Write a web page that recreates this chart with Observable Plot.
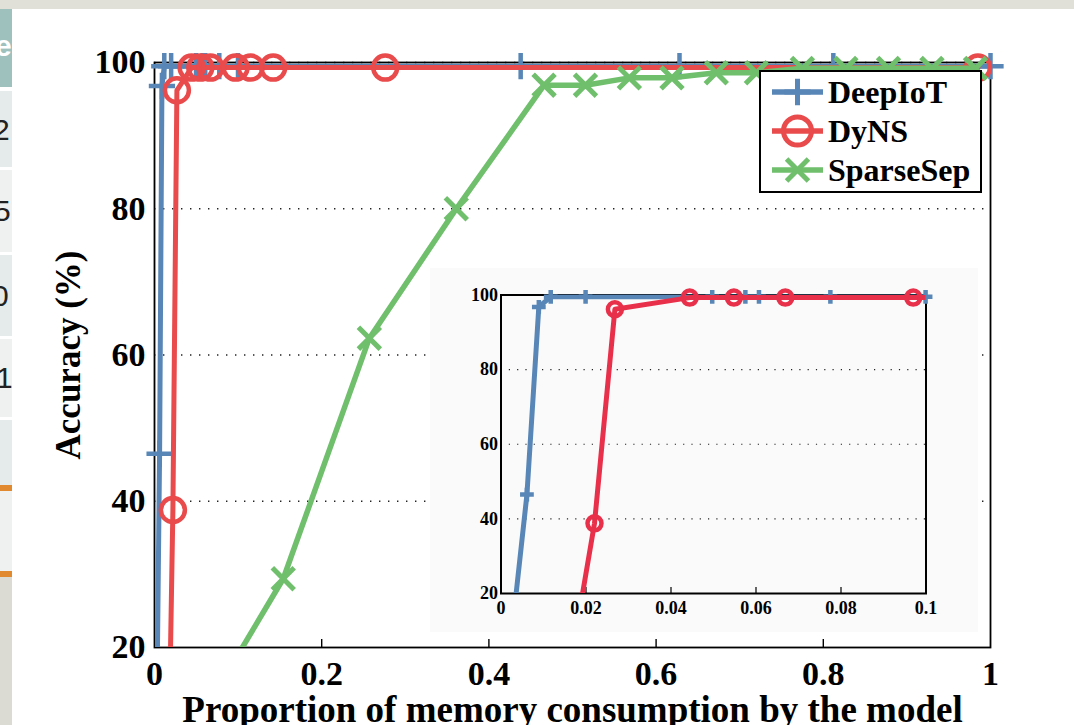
<!DOCTYPE html>
<html><head><meta charset="utf-8">
<script src="https://cdn.jsdelivr.net/npm/d3@7"></script>
<script src="https://cdn.jsdelivr.net/npm/@observablehq/plot@0.6"></script>
<style>
body{margin:0;background:#fff;}
#wrap{position:relative;width:1074px;height:725px;overflow:hidden;background:#fff;font-family:"Liberation Serif","Times New Roman",serif;font-weight:bold;}
#topband{position:absolute;left:0;top:0;width:1074px;height:9px;background:#e0e0d9;}
#strip{position:absolute;left:0;top:9px;width:12px;height:716px;overflow:hidden;background:#dcdbd3;}
#strip div{position:absolute;left:0;width:12px;overflow:hidden;}
#strip span{position:absolute;font-family:"Liberation Sans",sans-serif;font-weight:normal;font-size:30px;line-height:30px;}
#main,#inset,#legend{position:absolute;}
#main{left:0;top:0;}
#inset{left:430px;top:268px;}
#legend{left:759px;top:70px;}
</style></head>
<body><div id="wrap">
<div id="topband"></div>
<div id="strip">
  <div style="top:0;height:78px;background:#9fc1bd"><span style="left:-5px;top:22px;color:#fff;font-weight:bold">e</span></div>
  <div style="top:78px;height:4px;background:#fff"></div>
  <div style="top:82px;height:76px;background:#e5ebeb"><span style="left:-7px;top:24px;color:#222">2</span></div>
  <div style="top:158px;height:3px;background:#fff"></div>
  <div style="top:161px;height:82px;background:#eef1f0"><span style="left:-6px;top:26px;color:#222">5</span></div>
  <div style="top:243px;height:3px;background:#fff"></div>
  <div style="top:246px;height:81px;background:#e5ebeb"><span style="left:-8px;top:26px;color:#222">0</span></div>
  <div style="top:327px;height:3px;background:#fff"></div>
  <div style="top:330px;height:78px;background:#eef1f0"><span style="left:-4px;top:24px;color:#222">1</span></div>
  <div style="top:408px;height:3px;background:#fff"></div>
  <div style="top:411px;height:65px;background:#e5ebeb"></div>
  <div style="top:476px;height:6px;background:#e0892f"></div>
  <div style="top:482px;height:80px;background:#eff1f0"></div>
  <div style="top:562px;height:6px;background:#e0892f"></div>
</div>
<div id="main"></div>
<div id="inset"></div>
<div id="legend"></div>
</div>
<script>
// ---- data ----
const seriesNames = ["DeepIoT", "DyNS", "SparseSep"];
const seriesColors = ["#5886b6", "#e94a4b", "#6fbf6c"];
const insetColors = ["#5886b6", "#e8304a", "#6fbf6c"];

const deepIoTX = [0.0026, 0.0061, 0.0089, 0.0117, 0.0199, 0.0497, 0.0575, 0.0607, 0.0775, 0.0999, 0.438, 0.628, 0.812, 1.0];
const deepIoTY = [10, 46.5, 96.8, 99.5, 99.5, 99.5, 99.5, 99.5, 99.5, 99.5, 99.5, 99.5, 99.5, 99.5];

const dynsX = [0.0177, 0.0220, 0.0268, 0.0444, 0.0548, 0.0669, 0.097, 0.115, 0.142, 0.276, 0.985];
const dynsY = [10, 38.8, 96.2, 99.3, 99.3, 99.3, 99.3, 99.3, 99.3, 99.3, 99.3];

const sparseX = [0.053, 0.154, 0.257, 0.361, 0.466, 0.5155, 0.568, 0.619, 0.672, 0.720, 0.775, 0.827, 0.878, 0.930, 0.982];
const sparseY = [10, 29.4, 62.3, 80.0, 96.9, 96.9, 97.9, 97.9, 98.6, 98.6, 99.2, 99.2, 99.2, 99.2, 99.2];

const xTicks = [0, 0.2, 0.4, 0.6, 0.8, 1];
const xTickLabels = ["0", "0.2", "0.4", "0.6", "0.8", "1"];
const yTicks = [20, 40, 60, 80, 100];
const yTickLabels = ["20", "40", "60", "80", "100"];
const gridValues = [40, 60, 80, 100];

const insetXTicks = [0, 0.02, 0.04, 0.06, 0.08, 0.1];
const insetXTickLabels = ["0", "0.02", "0.04", "0.06", "0.08", "0.1"];
const insetYTicks = [20, 40, 60, 80, 100];
const insetYTickLabels = ["20", "40", "60", "80", "100"];
const insetGridValues = [40, 60, 80];

const xLabel = "Proportion of memory consumption by the model";
const yLabel = "Accuracy (%)";

// ---- build tables ----
const toRows = (name, xs, ys) => xs.map((x, i) => ({series: name, x, y: ys[i]}));
const deep = toRows(seriesNames[0], deepIoTX, deepIoTY);
const dyns = toRows(seriesNames[1], dynsX, dynsY);
const sparse = toRows(seriesNames[2], sparseX, sparseY);

const FONT = '"Liberation Serif", "Times New Roman", serif';
const fmt = (vals, labels) => d => labels[vals.findIndex(v => Math.abs(v - d) < 1e-9)];

function seriesMarks(data, color, symbol, r, lw, sw, xmax) {
  return [
    Plot.line(data, {x: "x", y: "y", stroke: color, strokeWidth: lw, clip: true, strokeLinejoin: "round"}),
    Plot.dot(data.filter(d => d.y >= 20 && d.x <= xmax), {x: "x", y: "y", symbol, r, stroke: color, strokeWidth: sw, fill: "none"})
  ];
}

const main = Plot.plot({
  width: 1074, height: 725,
  marginLeft: 154, marginRight: 84, marginTop: 62, marginBottom: 78,
  x: {domain: [0, 1], label: null},
  y: {domain: [20, 100], label: null},
  style: {background: "transparent", fontFamily: FONT, fontWeight: "bold", color: "#000", overflow: "visible"},
  marks: [
    Plot.gridY(gridValues, {stroke: "#222", strokeOpacity: 1, strokeWidth: 1.4, strokeDasharray: "1.4,7.6"}),
    Plot.axisX(xTicks.slice(1, -1), {tickSize: 8, dy: -8, tickFormat: () => "", label: null, strokeWidth: 1.4}),
    Plot.axisX(xTicks, {tickSize: 0, tickPadding: 13, fontSize: 34, tickFormat: fmt(xTicks, xTickLabels), label: null}),
    Plot.axisY(yTicks, {tickSize: 0, tickPadding: 9, fontSize: 34, tickFormat: fmt(yTicks, yTickLabels), label: null}),
    Plot.frame({stroke: "#000", strokeWidth: 1.8}),
    ...seriesMarks(deep, seriesColors[0], "plus", 8.5, 5, 4.5, 2),
    ...seriesMarks(dyns, seriesColors[1], "circle", 12, 5, 4.5, 2),
    ...seriesMarks(sparse, seriesColors[2], "times", 10, 5.5, 5, 2),
    Plot.text([xLabel], {text: d => d, frameAnchor: "bottom", textAnchor: "middle", lineAnchor: "middle", dy: 63, fontSize: 37, fontWeight: "bold"}),
    Plot.text([yLabel], {text: d => d, frameAnchor: "left", textAnchor: "middle", lineAnchor: "middle", dx: -86, rotate: -90, fontSize: 35, fontWeight: "bold"})
  ]
});
document.getElementById("main").append(main);

const inset = Plot.plot({
  width: 548, height: 364,
  marginLeft: 70.5, marginRight: 52.5, marginTop: 26.5, marginBottom: 39,
  x: {domain: [0, 0.1], label: null},
  y: {domain: [20, 100], label: null},
  style: {background: "#fafafa", fontFamily: FONT, fontWeight: "bold", color: "#000", overflow: "visible"},
  marks: [
    Plot.gridY(insetGridValues, {stroke: "#222", strokeOpacity: 1, strokeWidth: 1.2, strokeDasharray: "1.2,7.1"}),
    Plot.axisX(insetXTicks.slice(1, -1), {tickSize: 6, dy: -6, tickFormat: () => "", label: null, strokeWidth: 1.2}),
    Plot.axisX(insetXTicks, {tickSize: 0, tickPadding: 8, fontSize: 18, tickFormat: fmt(insetXTicks, insetXTickLabels), label: null}),
    Plot.axisY(insetYTicks, {tickSize: 0, tickPadding: 3, fontSize: 18, tickFormat: fmt(insetYTicks, insetYTickLabels), label: null}),
    Plot.frame({stroke: "#000", strokeWidth: 2}),
    ...seriesMarks(sparse, insetColors[2], "times", 6, 4.5, 4, 0.1001),
    ...seriesMarks(deep, insetColors[0], "plus", 4.5, 5, 4.5, 0.1001),
    ...seriesMarks(dyns, insetColors[1], "circle", 7, 5, 4.5, 0.1001)
  ]
});
document.getElementById("inset").append(inset);

// ---- legend ----
const symbols = [d3.symbolPlus, d3.symbolCircle, d3.symbolTimes];
const symR = [8.5, 14, 10];
const lg = d3.select("#legend").append("svg").attr("width", 224).attr("height", 124);
lg.append("rect").attr("x", 1).attr("y", 1).attr("width", 221).attr("height", 121)
  .attr("fill", "#fff").attr("stroke", "#000").attr("stroke-width", 2);
seriesNames.forEach((name, i) => {
  const cy = 22 + i * 39;
  const g = lg.append("g");
  g.append("line").attr("x1", 13).attr("x2", 64).attr("y1", cy).attr("y2", cy)
    .attr("stroke", seriesColors[i]).attr("stroke-width", 5.5);
  g.append("path").attr("transform", `translate(38.5,${cy})`)
    .attr("d", d3.symbol(symbols[i], symR[i] * symR[i] * Math.PI)())
    .attr("fill", "none").attr("stroke", seriesColors[i]).attr("stroke-width", 5);
  g.append("text").attr("x", 69).attr("y", cy + 11).text(name)
    .attr("font-family", FONT).attr("font-weight", "bold").attr("font-size", 32).attr("fill", "#000");
});
</script>
</body></html>
